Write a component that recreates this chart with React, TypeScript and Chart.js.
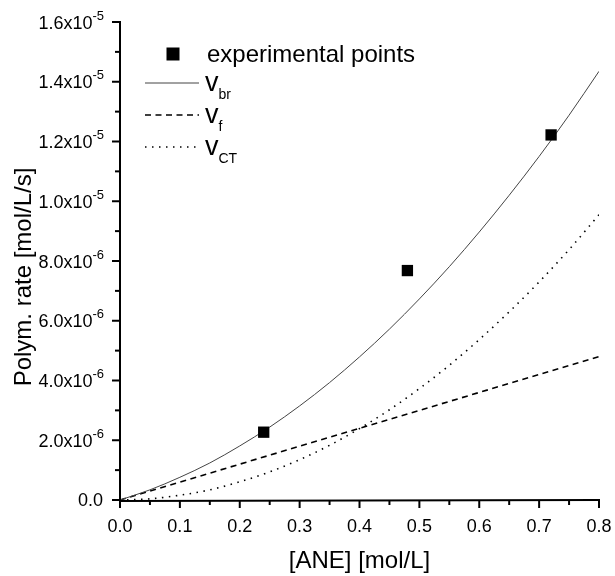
import React, { useEffect, useRef } from "react";
import { Chart, registerables } from "chart.js";

Chart.register(...registerables);

// ---- data ----
const concANE = [0, 0.05, 0.1, 0.15, 0.2, 0.25, 0.3, 0.35, 0.4, 0.45, 0.5, 0.55, 0.6, 0.65, 0.7, 0.75, 0.8];
const vBr = [0, 0.34e-6, 0.76e-6, 1.24e-6, 1.81e-6, 2.44e-6, 3.15e-6, 3.93e-6, 4.79e-6, 5.72e-6, 6.73e-6, 7.81e-6, 8.97e-6, 10.2e-6, 11.5e-6, 12.88e-6, 14.35e-6];
const vF = [0, 0.3e-6, 0.6e-6, 0.9e-6, 1.2e-6, 1.5e-6, 1.8e-6, 2.1e-6, 2.4e-6, 2.7e-6, 3.0e-6, 3.3e-6, 3.6e-6, 3.9e-6, 4.2e-6, 4.5e-6, 4.8e-6];
const vCT = [0, 0.04e-6, 0.16e-6, 0.34e-6, 0.61e-6, 0.94e-6, 1.35e-6, 1.83e-6, 2.39e-6, 3.02e-6, 3.73e-6, 4.51e-6, 5.37e-6, 6.3e-6, 7.3e-6, 8.38e-6, 9.55e-6];

const expX = [0.24, 0.48, 0.72];
const expY = [2.27e-6, 7.68e-6, 1.222e-5];

const xTickValues = [0, 0.1, 0.2, 0.3, 0.4, 0.5, 0.6, 0.7, 0.8];
const xTickLabels = ["0.0", "0.1", "0.2", "0.3", "0.4", "0.5", "0.6", "0.7", "0.8"];
const yTickValues = [0, 2e-6, 4e-6, 6e-6, 8e-6, 1e-5, 1.2e-5, 1.4e-5, 1.6e-5];
const yTickMantissa = ["0.0", "2.0x10", "4.0x10", "6.0x10", "8.0x10", "1.0x10", "1.2x10", "1.4x10", "1.6x10"];
const yTickExponent = ["", "-6", "-6", "-6", "-6", "-5", "-5", "-5", "-5"];

const xTitle = "[ANE] [mol/L]";
const yTitle = "Polym. rate [mol/L/s]";
const legendPoints = "experimental points";
const legendLines = [
  { main: "v", sub: "br" },
  { main: "v", sub: "f" },
  { main: "v", sub: "CT" },
];

const FONT = "'Liberation Sans', Arial, Helvetica, sans-serif";

const SOLID_COLOR = "#444444";

const decorPlugin = {
  id: "originDecor",
  afterDraw(chart: any) {
    const ctx: CanvasRenderingContext2D = chart.ctx;
    const xs = chart.scales.x;
    const ys = chart.scales.y;
    const area = chart.chartArea;
    const left = area.left;
    const bottom = area.bottom;
    ctx.save();
    ctx.strokeStyle = "#000";
    ctx.fillStyle = "#000";
    ctx.lineWidth = 2;
    ctx.setLineDash([]);
    // axis lines
    ctx.beginPath();
    ctx.moveTo(left, area.top - 1);
    ctx.lineTo(left, bottom + 1);
    ctx.lineTo(area.right + 1, bottom);
    ctx.stroke();

    // x ticks
    for (let i = 0; i < xTickValues.length; i++) {
      const px = xs.getPixelForValue(xTickValues[i]);
      ctx.beginPath();
      ctx.moveTo(px, bottom);
      ctx.lineTo(px, bottom + 8);
      ctx.stroke();
      if (i < xTickValues.length - 1) {
        const mx = xs.getPixelForValue((xTickValues[i] + xTickValues[i + 1]) / 2);
        ctx.beginPath();
        ctx.moveTo(mx, bottom);
        ctx.lineTo(mx, bottom + 5);
        ctx.stroke();
      }
    }
    // y ticks
    for (let i = 0; i < yTickValues.length; i++) {
      const py = ys.getPixelForValue(yTickValues[i]);
      ctx.beginPath();
      ctx.moveTo(left - 8, py);
      ctx.lineTo(left, py);
      ctx.stroke();
      if (i < yTickValues.length - 1) {
        const my = ys.getPixelForValue((yTickValues[i] + yTickValues[i + 1]) / 2);
        ctx.beginPath();
        ctx.moveTo(left - 5, my);
        ctx.lineTo(left, my);
        ctx.stroke();
      }
    }

    // x tick labels
    ctx.font = `18px ${FONT}`;
    ctx.textAlign = "center";
    ctx.textBaseline = "alphabetic";
    for (let i = 0; i < xTickValues.length; i++) {
      const px = xs.getPixelForValue(xTickValues[i]);
      ctx.fillText(xTickLabels[i], px, bottom + 32);
    }

    // y tick labels with superscripts
    const rightEdge = left - 16;
    for (let i = 0; i < yTickValues.length; i++) {
      const py = ys.getPixelForValue(yTickValues[i]);
      const sup = yTickExponent[i];
      if (sup) {
        ctx.font = `13px ${FONT}`;
        ctx.textAlign = "right";
        const sw = ctx.measureText(sup).width;
        ctx.fillText(sup, rightEdge, py - 2.5);
        ctx.font = `18px ${FONT}`;
        ctx.fillText(yTickMantissa[i], rightEdge - sw, py + 6.5);
      } else {
        ctx.font = `18px ${FONT}`;
        ctx.textAlign = "right";
        ctx.fillText(yTickMantissa[i], rightEdge - 1, py + 5.5);
      }
    }

    // axis titles
    ctx.font = `24px ${FONT}`;
    ctx.textAlign = "center";
    ctx.fillText(xTitle, (area.left + area.right) / 2, 568);
    ctx.save();
    ctx.translate(31, 277);
    ctx.rotate(-Math.PI / 2);
    ctx.fillText(yTitle, 0, 0);
    ctx.restore();

    // legend
    ctx.fillRect(166.5, 47.5, 13, 13);
    ctx.font = `24px ${FONT}`;
    ctx.textAlign = "left";
    ctx.fillText(legendPoints, 207, 62);

    const rowsY = [83, 115, 147];
    const styles = [
      { dash: [] as number[], width: 1, color: SOLID_COLOR },
      { dash: [6, 4.5], width: 1.6, color: "#000" },
      { dash: [1.5, 5.5], width: 1.6, color: "#000" },
    ];
    for (let i = 0; i < legendLines.length; i++) {
      const y = rowsY[i];
      const s = styles[i];
      ctx.save();
      ctx.strokeStyle = s.color;
      ctx.lineWidth = s.width;
      ctx.setLineDash(s.dash);
      ctx.beginPath();
      ctx.moveTo(145, y);
      ctx.lineTo(199, y);
      ctx.stroke();
      ctx.restore();
      ctx.font = `27px ${FONT}`;
      ctx.fillText(legendLines[i].main, 205, y + 8);
      const vw = ctx.measureText(legendLines[i].main).width;
      ctx.font = `14px ${FONT}`;
      ctx.fillText(legendLines[i].sub, 205 + vw, y + 16);
    }
    ctx.restore();
  },
};

export default function App() {
  const ref = useRef<HTMLCanvasElement>(null);
  useEffect(() => {
    const toPts = (ys: number[]) => concANE.map((x, i) => ({ x, y: ys[i] }));
    const chart = new Chart(ref.current as HTMLCanvasElement, {
      type: "scatter",
      data: {
        datasets: [
          {
            label: "experimental points",
            data: expX.map((x, i) => ({ x, y: expY[i] })),
            pointStyle: "rect",
            pointRadius: 8,
            pointHoverRadius: 8,
            backgroundColor: "#000",
            borderColor: "#000",
            borderWidth: 0,
            showLine: false,
            order: 0,
          },
          {
            label: "v_br",
            data: toPts(vBr),
            showLine: true,
            borderColor: SOLID_COLOR,
            borderWidth: 1,
            pointRadius: 0,
            cubicInterpolationMode: "monotone",
            order: 1,
          },
          {
            label: "v_f",
            data: toPts(vF),
            showLine: true,
            borderColor: "#000",
            borderWidth: 1.6,
            borderDash: [6, 4.5],
            pointRadius: 0,
            order: 2,
          },
          {
            label: "v_CT",
            data: toPts(vCT),
            showLine: true,
            borderColor: "#000",
            borderWidth: 1.6,
            borderDash: [1.5, 5.5],
            pointRadius: 0,
            cubicInterpolationMode: "monotone",
            order: 3,
          },
        ],
      } as any,
      options: {
        responsive: false,
        animation: false,
        devicePixelRatio: 1,
        layout: { padding: { left: 120, top: 22, right: 16, bottom: 76 } },
        plugins: { legend: { display: false }, tooltip: { enabled: false } },
        scales: {
          x: { type: "linear", min: 0, max: 0.8, display: false },
          y: { type: "linear", min: 0, max: 1.6e-5, display: false },
        },
      } as any,
      plugins: [decorPlugin],
    });
    return () => chart.destroy();
  }, []);
  return (
    <div style={{ position: "absolute", left: 0, top: 0, width: 615, height: 576, background: "#fff" }}>
      <canvas ref={ref} width={615} height={576} style={{ width: 615, height: 576, display: "block" }} />
    </div>
  );
}
